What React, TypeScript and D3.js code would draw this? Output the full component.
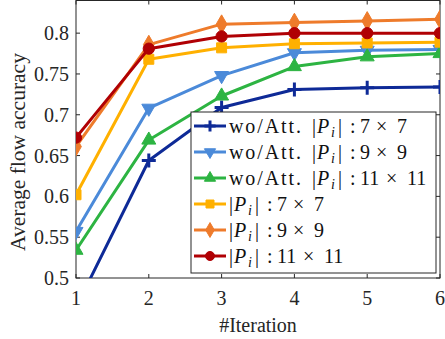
import React from "react";
import * as d3 from "d3";

const iterations = [1, 2, 3, 4, 5, 6];
const woAtt7 = [0.464, 0.644, 0.709, 0.731, 0.733, 0.734];
const woAtt9 = [0.557, 0.708, 0.748, 0.776, 0.779, 0.780];
const woAtt11 = [0.534, 0.669, 0.723, 0.759, 0.771, 0.775];
const att7 = [0.602, 0.768, 0.782, 0.787, 0.788, 0.789];
const att9 = [0.661, 0.786, 0.811, 0.813, 0.815, 0.817];
const att11 = [0.672, 0.781, 0.796, 0.800, 0.800, 0.800];
const yTicks = [0.5, 0.55, 0.6, 0.65, 0.7, 0.75, 0.8];

const series = [
  { prefix: "wo/Att.", size: ["7", "7"], values: woAtt7, color: "#0e2a97", marker: "plus" },
  { prefix: "wo/Att.", size: ["9", "9"], values: woAtt9, color: "#4b8ad9", marker: "down" },
  { prefix: "wo/Att.", size: ["11", "11"], values: woAtt11, color: "#2db442", marker: "up" },
  { prefix: "", size: ["7", "7"], values: att7, color: "#ffb000", marker: "square" },
  { prefix: "", size: ["9", "9"], values: att9, color: "#ee7b2b", marker: "diamond" },
  { prefix: "", size: ["11", "11"], values: att11, color: "#b00004", marker: "circle" },
];

const W = 445;
const H = 339;
const plot = { left: 76, right: 440, top: 0.5, bottom: 278 };
const FONT = "'Liberation Serif', 'Times New Roman', serif";

function drawMarker(g, type, x, y, color, scale = 1) {
  if (type === "plus") {
    const s = 7 * scale;
    g.append("path")
      .attr("d", `M${x - s},${y}H${x + s}M${x},${y - s}V${y + s}`)
      .attr("stroke", color)
      .attr("stroke-width", 3)
      .attr("fill", "none");
    return;
  }
  const map = {
    down: [d3.symbolTriangle, 85, 180],
    up: [d3.symbolTriangle, 85, 0],
    square: [d3.symbolSquare, 100, 0],
    diamond: [d3.symbolDiamond, 100, 0],
    circle: [d3.symbolCircle, 100, 0],
  };
  const [sym, area, rot] = map[type];
  g.append("path")
    .attr("d", d3.symbol().type(sym).size(area * scale * scale)())
    .attr("transform", `translate(${x},${y}) rotate(${rot})`)
    .attr("fill", color)
    .attr("stroke", color)
    .attr("stroke-width", 1);
}

export default function App() {
  const svgRef = React.useRef(null);

  React.useEffect(() => {
    const svg = d3.select(svgRef.current);
    svg.selectAll("*").remove();

    const x = d3.scaleLinear().domain([1, 6]).range([plot.left, plot.right]);
    const y = d3.scaleLinear().domain([0.5, 0.84]).range([plot.bottom, plot.top]);

    svg.append("defs")
      .append("clipPath")
      .attr("id", "plotClip")
      .append("rect")
      .attr("x", plot.left)
      .attr("y", plot.top)
      .attr("width", plot.right - plot.left)
      .attr("height", plot.bottom - plot.top);

    /* axes box with inward ticks */
    const axis = svg.append("g").attr("stroke", "#262626").attr("stroke-width", 1);
    axis.append("rect")
      .attr("x", plot.left)
      .attr("y", plot.top)
      .attr("width", plot.right - plot.left)
      .attr("height", plot.bottom - plot.top)
      .attr("fill", "none");
    iterations.forEach((d) => {
      axis.append("line").attr("x1", x(d)).attr("x2", x(d)).attr("y1", plot.bottom).attr("y2", plot.bottom - 4);
      axis.append("line").attr("x1", x(d)).attr("x2", x(d)).attr("y1", plot.top).attr("y2", plot.top + 4);
    });
    yTicks.forEach((d) => {
      axis.append("line").attr("x1", plot.left).attr("x2", plot.left + 4).attr("y1", y(d)).attr("y2", y(d));
      axis.append("line").attr("x1", plot.right).attr("x2", plot.right - 4).attr("y1", y(d)).attr("y2", y(d));
    });

    const labels = svg.append("g").attr("font-family", FONT).attr("fill", "#262626").attr("font-size", 20);
    iterations.forEach((d) => {
      labels.append("text").attr("x", x(d)).attr("y", 305).attr("text-anchor", "middle").text(d);
    });
    yTicks.forEach((d) => {
      labels.append("text")
        .attr("x", 69)
        .attr("y", y(d) + 7)
        .attr("text-anchor", "end")
        .text(d3.format("")(d));
    });
    labels.append("text")
      .attr("x", x(3.5))
      .attr("y", 332)
      .attr("text-anchor", "middle")
      .text("#Iteration");
    labels.append("text")
      .attr("transform", "translate(25, 152) rotate(-90)")
      .attr("text-anchor", "middle")
      .attr("font-size", 21.5)
      .text("Average flow accuracy");

    /* lines */
    const line = d3.line().x((d, i) => x(iterations[i])).y((d) => y(d));
    const data = svg.append("g").attr("clip-path", "url(#plotClip)");
    series.forEach((s) => {
      data.append("path")
        .attr("d", line(s.values))
        .attr("fill", "none")
        .attr("stroke", s.color)
        .attr("stroke-width", 3)
        .attr("stroke-linejoin", "round");
      s.values.forEach((v, i) => drawMarker(data, s.marker, x(iterations[i]), y(v), s.color));
    });

    /* legend */
    const leg = svg.append("g");
    leg.append("rect")
      .attr("x", 191)
      .attr("y", 112)
      .attr("width", 245)
      .attr("height", 161)
      .attr("fill", "white")
      .attr("stroke", "#262626")
      .attr("stroke-width", 1);
    series.forEach((s, i) => {
      const cy = 126 + i * 26;
      leg.append("line")
        .attr("x1", 194)
        .attr("x2", 226)
        .attr("y1", cy)
        .attr("y2", cy)
        .attr("stroke", s.color)
        .attr("stroke-width", 3);
      drawMarker(leg, s.marker, 210, cy, s.color, 0.8);

      const row = leg.append("g")
        .attr("font-family", FONT)
        .attr("font-size", 20)
        .attr("fill", "#111")
        .attr("transform", `translate(229, ${cy + 7})`);
      let x0 = 0;
      if (s.prefix) {
        row.append("text").attr("textLength", 72).attr("lengthAdjust", "spacing").text(s.prefix);
        x0 = 83;
      }
      row.append("text").attr("x", x0).text("|");
      row.append("text").attr("x", x0 + 5).attr("font-style", "italic").text("P");
      row.append("text").attr("x", x0 + 19).attr("y", 4).attr("font-style", "italic").attr("font-size", 14).text("i");
      row.append("text").attr("x", x0 + 26).text("|");
      row.append("text").attr("x", x0 + 38).text(":");
      const a = s.size[0];
      const wa = a.length * 10;
      row.append("text").attr("x", x0 + 48).text(a);
      row.append("text").attr("x", x0 + 48 + wa + 6).text("×");
      row.append("text").attr("x", x0 + 48 + wa + 27).text(s.size[1]);
    });
  }, []);

  return (
    <svg
      ref={svgRef}
      width={W}
      height={H}
      style={{ position: "absolute", left: 0, top: 0, background: "white" }}
    />
  );
}
